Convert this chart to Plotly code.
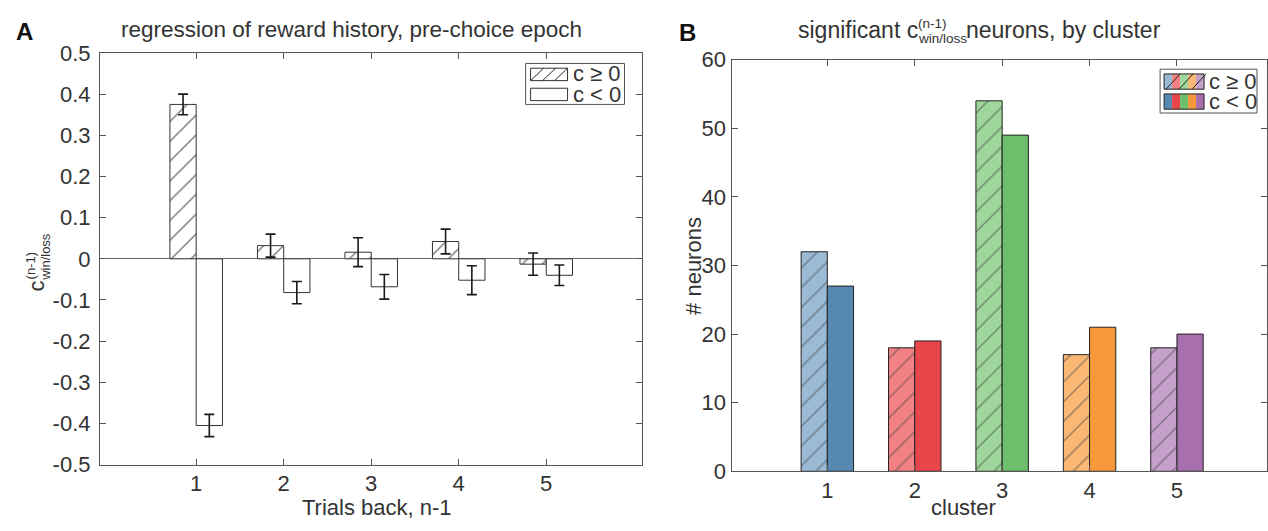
import plotly.graph_objects as go

W, H = 1268, 531
FONT = "Liberation Sans, Arial, sans-serif"
TXT = "#333333"
AX = "#555555"

# ---------------- data ----------------
trials = [1, 2, 3, 4, 5]
coef_pos = [0.375, 0.032, 0.016, 0.042, -0.013]
coef_pos_err = [0.025, 0.028, 0.035, 0.030, 0.027]
coef_neg = [-0.405, -0.082, -0.068, -0.052, -0.040]
coef_neg_err = [0.027, 0.027, 0.030, 0.035, 0.025]

clusters = [1, 2, 3, 4, 5]
n_pos = [32, 18, 54, 17, 18]
n_neg = [27, 19, 49, 21, 20]
col_solid = ["#5688B2", "#E9464B", "#6DBF6B", "#F7993A", "#A86FAE"]
col_light = ["#9ABAD5", "#F28183", "#9FD69B", "#FBB874", "#C5A0CB"]

ticksA = [0.5, 0.4, 0.3, 0.2, 0.1, 0, -0.1, -0.2, -0.3, -0.4, -0.5]
ticksA_txt = ["0.5", "0.4", "0.3", "0.2", "0.1", "0", "-0.1", "-0.2", "-0.3", "-0.4", "-0.5"]
ticksB = [0, 10, 20, 30, 40, 50, 60]

BW = 0.3

def px(x):
    return x / W

def py(y):
    return 1 - y / H

fig = go.Figure()

hatch = dict(shape="/", fgcolor="#000000", size=14, solidity=0.11)

# Panel A
fig.add_trace(go.Bar(
    x=trials, y=coef_pos, width=BW, offset=-BW, xaxis="x", yaxis="y",
    marker=dict(color="white", line=dict(color="#333333", width=1), pattern=hatch),
    error_y=dict(type="data", array=coef_pos_err, color="#1a1a1a", thickness=1.6, width=5),
    showlegend=False))
fig.add_trace(go.Bar(
    x=trials, y=coef_neg, width=BW, offset=0, xaxis="x", yaxis="y",
    marker=dict(color="white", line=dict(color="#333333", width=1)),
    error_y=dict(type="data", array=coef_neg_err, color="#1a1a1a", thickness=1.6, width=5),
    showlegend=False))

# Panel B
fig.add_trace(go.Bar(
    x=clusters, y=n_pos, width=BW, offset=-BW, xaxis="x2", yaxis="y2",
    marker=dict(color=col_light, line=dict(color="#222222", width=1), pattern=hatch),
    showlegend=False))
fig.add_trace(go.Bar(
    x=clusters, y=n_neg, width=BW, offset=0, xaxis="x2", yaxis="y2",
    marker=dict(color=col_solid, line=dict(color="#222222", width=1)),
    showlegend=False))

axcommon = dict(showline=True, linecolor=AX, linewidth=1, mirror="ticks",
                ticks="inside", ticklen=6, tickcolor=AX, showgrid=False,
                tickfont=dict(family=FONT, size=22, color=TXT))

fig.update_layout(
    width=W, height=H, margin=dict(l=0, r=0, t=0, b=0),
    paper_bgcolor="white", plot_bgcolor="white",
    barmode="overlay", font=dict(family=FONT, color=TXT),
    xaxis=dict(domain=[px(100), px(643)], range=[-0.1, 6.1], tickvals=trials,
               zeroline=False, anchor="y", ticklabelstandoff=-1, **axcommon),
    yaxis=dict(domain=[py(475), py(43)], range=[-0.5, 0.5], tickvals=ticksA,
               ticktext=ticksA_txt, zeroline=True, zerolinecolor="#666666",
               zerolinewidth=1, anchor="x", ticklabelstandoff=4, **axcommon),
    xaxis2=dict(domain=[px(733), 1.0], range=[-0.086, 6.03], tickvals=clusters,
                zeroline=False, anchor="y2", ticklabelstandoff=-1, **axcommon),
    yaxis2=dict(domain=[py(482), py(50)], range=[0, 60], tickvals=ticksB,
                zeroline=False, anchor="x2", ticklabelstandoff=1, **axcommon),
)

ann = []
shapes = []

def add_text(x, y, text, size=22, color=TXT, xanchor="center", angle=0):
    ann.append(dict(x=px(x), y=py(y), xref="paper", yref="paper", text=text,
                    xanchor=xanchor, yanchor="middle", textangle=angle,
                    showarrow=False, font=dict(size=size, color=color, family=FONT)))

# panel letters
add_text(25, 20, "<b>A</b>", size=24, color="#111111")
add_text(688, 21, "<b>B</b>", size=24, color="#111111")

# title A
add_text(352, 18, "regression of reward history, pre-choice epoch", size=22.5)

# title B with stacked super/subscript
add_text(921, 19, "significant c", size=23, xanchor="right")
add_text(917, 12, "(n-1)", size=13.5, xanchor="left")
add_text(917, 28, "win/loss", size=13.5, xanchor="left")
add_text(965, 19, "neurons, by cluster", size=23, xanchor="left")

# y title A (rotated) with stacked super/subscript
add_text(37, 287, "c", size=22, angle=-90)
add_text(31, 266, "(n-1)", size=13, angle=-90)
add_text(46, 257, "win/loss", size=13, angle=-90)

# other axis titles
add_text(377, 520, "Trials back, n-1", size=22)
add_text(964, 520, "cluster", size=22)
add_text(694, 266, "# neurons", size=22, angle=-90)

# legend A
shapes.append(dict(type="rect", xref="paper", yref="paper", x0=px(526), x1=px(625),
                   y0=py(54), y1=py(97), line=dict(color=AX, width=1), fillcolor="white"))
shapes.append(dict(type="rect", xref="paper", yref="paper", x0=px(531), x1=px(568),
                   y0=py(59), y1=py(72), line=dict(color="#333333", width=1), fillcolor="white"))
for k in range(4):
    xa = 531 + k * 12
    xb = min(xa + 13, 568)
    shapes.append(dict(type="line", xref="paper", yref="paper", x0=px(xa), y0=py(72),
                       x1=px(xb), y1=py(72 - (xb - xa)),
                       line=dict(color="#222222", width=1)))
shapes.append(dict(type="rect", xref="paper", yref="paper", x0=px(531), x1=px(568),
                   y0=py(80), y1=py(93), line=dict(color="#333333", width=1), fillcolor="white"))
add_text(571, 65, "c ≥ 0", xanchor="left", size=22)
add_text(571, 87, "c < 0", xanchor="left", size=22)

# legend B
shapes.append(dict(type="rect", xref="paper", yref="paper", x0=px(1161), x1=px(1258),
                   y0=py(60), y1=py(106), line=dict(color=AX, width=1), fillcolor="white"))
sw = 8
for i, (cl, cs) in enumerate(zip(col_light, col_solid)):
    x0 = 1165 + i * sw
    shapes.append(dict(type="rect", xref="paper", yref="paper", x0=px(x0), x1=px(x0 + sw),
                       y0=py(65), y1=py(81), line=dict(width=0), fillcolor=cl))
    shapes.append(dict(type="rect", xref="paper", yref="paper", x0=px(x0), x1=px(x0 + sw),
                       y0=py(86), y1=py(102), line=dict(width=0), fillcolor=cs))
shapes.append(dict(type="rect", xref="paper", yref="paper", x0=px(1165), x1=px(1205),
                   y0=py(65), y1=py(81), line=dict(color="#222222", width=1)))
shapes.append(dict(type="rect", xref="paper", yref="paper", x0=px(1165), x1=px(1205),
                   y0=py(86), y1=py(102), line=dict(color="#222222", width=1)))
for k in range(3):
    xa = 1167 + k * 13
    shapes.append(dict(type="line", xref="paper", yref="paper", x0=px(xa), y0=py(81),
                       x1=px(xa + 14), y1=py(65), line=dict(color="#222222", width=1)))
add_text(1208, 73, "c ≥ 0", xanchor="left")
add_text(1208, 94, "c < 0", xanchor="left")

fig.update_layout(annotations=ann, shapes=shapes)
fig.write_html("out.html")
